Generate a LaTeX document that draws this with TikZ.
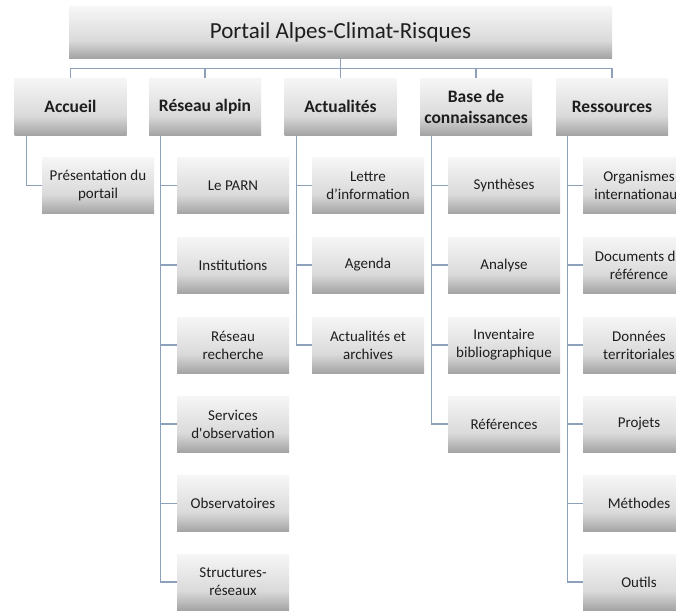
\documentclass[tikz,border=0pt]{standalone}
\usepackage{fontspec}
\setmainfont{Carlito}[Ligatures=TeXOff]
\definecolor{shT}{HTML}{F6F6F6}
\definecolor{shM}{HTML}{DADADA}
\definecolor{shB}{HTML}{A4A4A4}
\definecolor{conn}{HTML}{8DA2BA}
\definecolor{txt}{HTML}{1E1E1E}
\pgfdeclareverticalshading{boxshade}{100bp}{color(0bp)=(shB); color(25bp)=(shB); color(42bp)=(shM); color(75bp)=(shT); color(100bp)=(shT)}
\tikzset{
  gbox/.style={shading=boxshade, inner sep=0pt, align=center, text=txt},
  topbox/.style={gbox, minimum width=543pt, minimum height=51pt, font=\fontsize{23}{27}\selectfont},
  lvone/.style={gbox, minimum width=112pt, minimum height=57pt, font=\fontsize{17.5}{21}\selectfont\bfseries},
  leaf/.style={gbox, minimum width=112pt, minimum height=56pt, font=\fontsize{15}{18}\selectfont},
  link/.style={draw=conn, line width=1.3pt}
}
\begin{document}
\begin{tikzpicture}[x=1pt,y=-1pt]
\useasboundingbox (0,0) rectangle (676,610);
\clip (0,0) rectangle (676,610);
\fill[white] (0,0) rectangle (676,610);
% top
\node[topbox] (top) at (340.5,32.5) {Portail Alpes-Climat-Risques};
% level one
\node[lvone] (acc) at (70.5,106.5) {Accueil};
\node[lvone] (ra) at (205,106.5) {Réseau alpin};
\node[lvone] (act) at (340.5,106.5) {Actualités};
\node[lvone] (base) at (476,106.5) {Base de\\connaissances};
\node[lvone] (ress) at (612,106.5) {Ressources};
% Accueil children
\node[leaf] (pres) at (98,185.5) {Présentation du\\portail};
% Réseau alpin children
\node[leaf] (parn) at (233,185.5) {Le PARN};
\node[leaf] (inst) at (233,265) {Institutions};
\node[leaf] (rrech) at (233,345) {Réseau\\recherche};
\node[leaf] (serv) at (233,424) {Services\\d'observation};
\node[leaf] (obs) at (233,503.5) {Observatoires};
\node[leaf] (struct) at (233,582) {Structures-\\réseaux};
% Actualités children
\node[leaf] (lettre) at (368,185.5) {Lettre\\d’information};
\node[leaf] (agenda) at (368,265) {Agenda};
\node[leaf] (arch) at (368,345) {Actualités et\\archives};
% Base children
\node[leaf] (synth) at (504,185.5) {Synthèses};
\node[leaf] (anal) at (504,265) {Analyse};
\node[leaf] (inv) at (504,345) {Inventaire\\bibliographique};
\node[leaf] (refs) at (504,424) {Références};
% Ressources children
\node[leaf] (org) at (639,185.5) {Organismes\\internationaux};
\node[leaf] (docs) at (639,265) {Documents de\\référence};
\node[leaf] (donn) at (639,345) {Données\\territoriales};
\node[leaf] (proj) at (639,424) {Projets};
\node[leaf] (meth) at (639,503.5) {Méthodes};
\node[leaf] (outils) at (639,582) {Outils};
% bus
\draw[link] (top.south) -- ++(0,10) -| (acc.north);
\draw[link] (top.south) -- ++(0,10) -| (ress.north);
\draw[link] (ra.north) -- ++(0,-10);
\draw[link] (act.north) -- ++(0,-10);
\draw[link] (base.north) -- ++(0,-10);
% trunks
\draw[link] ([xshift=12pt]acc.south west) |- (pres.west);
\foreach \c in {parn,inst,rrech,serv,obs,struct}
  \draw[link] ([xshift=12pt]ra.south west) |- (\c.west);
\foreach \c in {lettre,agenda,arch}
  \draw[link] ([xshift=12pt]act.south west) |- (\c.west);
\foreach \c in {synth,anal,inv,refs}
  \draw[link] ([xshift=12pt]base.south west) |- (\c.west);
\foreach \c in {org,docs,donn,proj,meth,outils}
  \draw[link] ([xshift=12pt]ress.south west) |- (\c.west);
\end{tikzpicture}
\end{document}
